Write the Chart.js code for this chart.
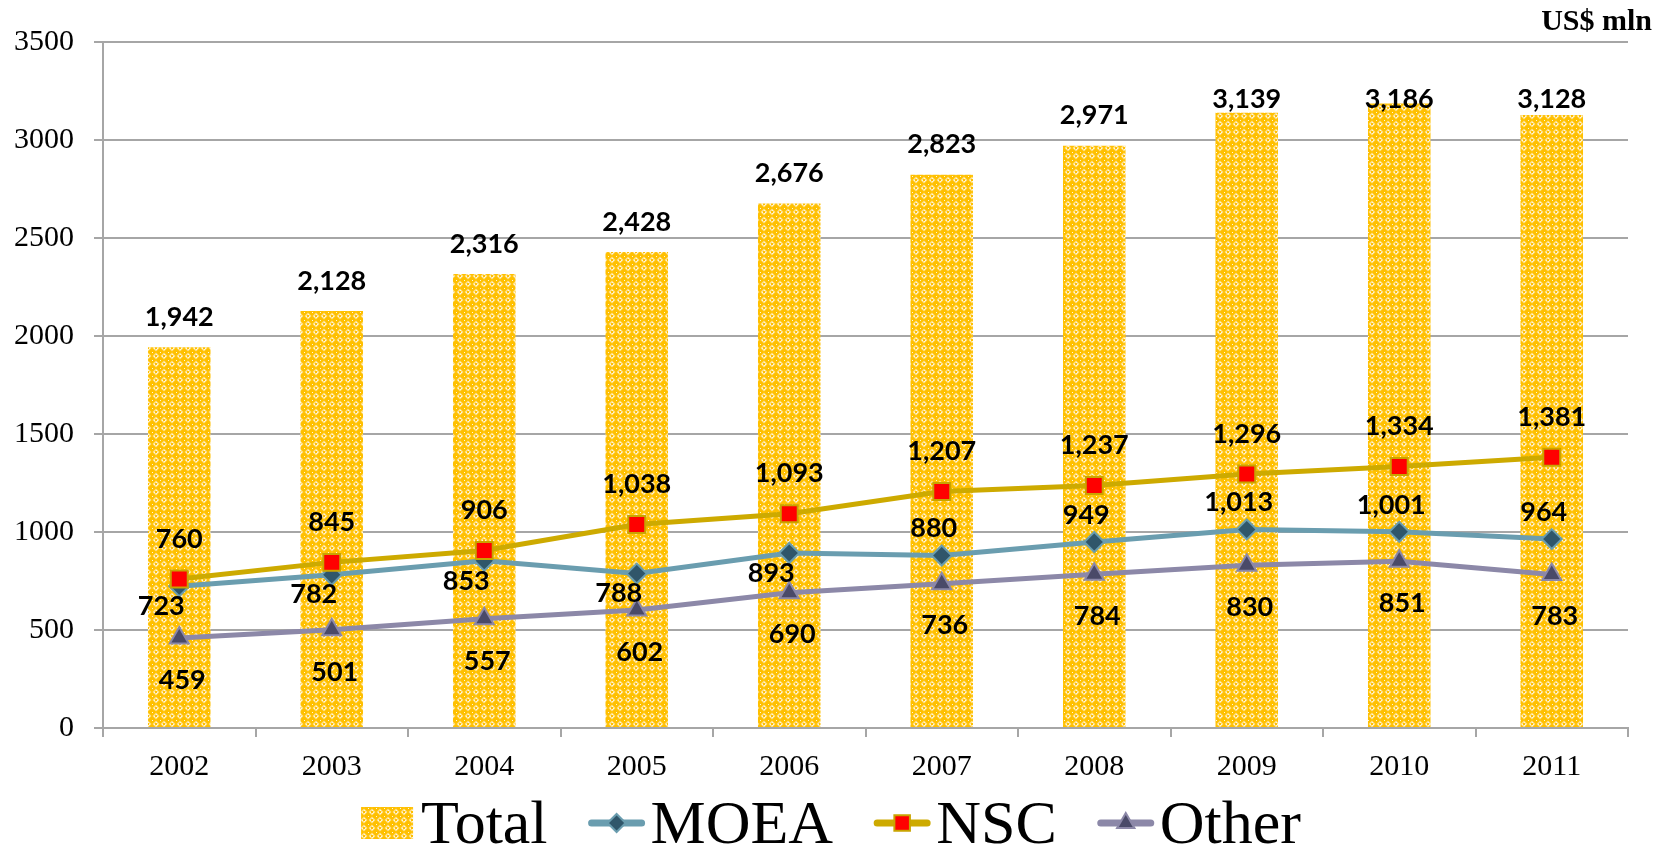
<!DOCTYPE html>
<html lang="en">
<head>
    <meta charset="UTF-8">
    <title>R&D Budget by Agency</title>
    <script src="https://cdn.jsdelivr.net/npm/chart.js@4/dist/chart.umd.min.js"></script>
    <style>
        html, body { margin: 0; padding: 0; background: #fff; }
        #wrap { width: 1671px; height: 847px; }
    </style>
</head>
<body>
    <div id="wrap"><canvas id="chart" width="1671" height="847"></canvas></div>
    <script>
        // Data
        const years = ['2002', '2003', '2004', '2005', '2006', '2007', '2008', '2009', '2010', '2011'];
        const total = [1942, 2128, 2316, 2428, 2676, 2823, 2971, 3139, 3186, 3128];
        const moea  = [723, 782, 853, 788, 893, 880, 949, 1013, 1001, 964];
        const nsc   = [760, 845, 906, 1038, 1093, 1207, 1237, 1296, 1334, 1381];
        const other = [459, 501, 557, 602, 690, 736, 784, 830, 851, 783];
        const yTicks = [0, 500, 1000, 1500, 2000, 2500, 3000, 3500];

        // label placement for MOEA (below / above the point)
        const moeaLabelSide = ['below', 'below', 'below', 'below', 'below', 'above', 'above', 'above', 'above', 'above'];

        const GRID = '#A6A6A6';
        const SERIF = '"Liberation Serif", "Times New Roman", serif';
        const LABEL_FONT = 'bold 27px Lato, "Open Sans", sans-serif';

        // gold bar fill with a light lattice
        function makePattern() {
            const c = document.createElement('canvas');
            c.width = 8; c.height = 8;
            const g = c.getContext('2d');
            g.fillStyle = '#FFC000';
            g.fillRect(0, 0, 8, 8);
            g.fillStyle = '#FFE08A';
            g.beginPath();
            g.moveTo(4, 0.5); g.lineTo(7.5, 4); g.lineTo(4, 7.5); g.lineTo(0.5, 4);
            g.closePath();
            g.fill();
            g.fillStyle = '#FFC000';
            g.fillRect(3, 3, 2, 2);
            g.fillStyle = '#FFF6DC';
            g.fillRect(0, 0, 1, 1);
            g.fillRect(2, 4, 1, 1); g.fillRect(5, 4, 1, 1);
            g.fillRect(4, 2, 1, 1); g.fillRect(4, 5, 1, 1);
            return g.createPattern(c, 'repeat');
        }
        const barFill = makePattern();

        const fmt = v => v.toLocaleString('en-US');

        // value labels
        const valueLabels = {
            id: 'valueLabels',
            afterDatasetsDraw(chart) {
                const ctx = chart.ctx;
                const top = chart.chartArea.top;
                ctx.save();
                ctx.font = LABEL_FONT;
                ctx.fillStyle = '#000';
                ctx.textAlign = 'center';
                ctx.textBaseline = 'middle';
                chart.data.datasets.forEach((ds, di) => {
                    const meta = chart.getDatasetMeta(di);
                    meta.data.forEach((el, i) => {
                        let x = el.x, y = el.y;
                        if (ds.label === 'Total') {
                            y = Math.max(y - 30, top + 57);
                        } else if (ds.label === 'NSC') {
                            y = y - 40;
                        } else if (ds.label === 'MOEA') {
                            if (moeaLabelSide[i] === 'below') { x -= 18; y += 20; }
                            else { x -= 8; y -= 27; }
                        } else {
                            x += 3; y += 42;
                        }
                        ctx.fillText(fmt(ds.data[i]), x, y);
                    });
                });
                ctx.restore();
            }
        };

        // units + legend drawn at the edges of the canvas
        const extras = {
            id: 'extras',
            afterDraw(chart) {
                const ctx = chart.ctx;
                ctx.save();
                ctx.font = 'bold 30px ' + SERIF;
                ctx.fillStyle = '#000';
                ctx.textAlign = 'right';
                ctx.textBaseline = 'middle';
                ctx.fillText('US$ mln', 1652, 22);

                // legend
                ctx.font = '62px ' + SERIF;
                ctx.textAlign = 'left';
                ctx.textBaseline = 'alphabetic';
                const items = chart.data.datasets.slice().sort((a, b) => a.legendIndex - b.legendIndex);
                const markW = 56, gapIn = 6, gapOut = 41;
                let totalW = 0;
                items.forEach((ds, k) => {
                    totalW += markW + gapIn + ctx.measureText(ds.label).width + (k < items.length - 1 ? gapOut : 0);
                });
                let x = 830 - totalW / 2;
                const midY = 823, base = 843;
                items.forEach(ds => {
                    if (ds.type === 'bar') {
                        ctx.fillStyle = barFill;
                        ctx.fillRect(x + 2, 807, 52, 32);
                    } else {
                        ctx.strokeStyle = ds.borderColor;
                        ctx.lineWidth = 7;
                        ctx.lineCap = 'round';
                        ctx.beginPath();
                        ctx.moveTo(x + 3, midY);
                        ctx.lineTo(x + markW - 3, midY);
                        ctx.stroke();
                        ctx.fillStyle = ds.pointBackgroundColor;
                        ctx.strokeStyle = ds.pointBorderColor;
                        ctx.lineWidth = 2;
                        Chart.helpers.drawPoint(ctx, {
                            pointStyle: ds.pointStyle,
                            radius: ds.legendRadius,
                            borderWidth: 2
                        }, x + markW / 2, midY);
                    }
                    x += markW + gapIn;
                    ctx.fillStyle = '#000';
                    ctx.fillText(ds.label, x, base);
                    x += ctx.measureText(ds.label).width + gapOut;
                });
                ctx.restore();
            }
        };

        new Chart(document.getElementById('chart'), {
            data: {
                labels: years,
                datasets: [
                    {
                        type: 'line', label: 'NSC', data: nsc, order: 1, legendIndex: 2,
                        borderColor: '#CDAA00', borderWidth: 5, tension: 0,
                        pointStyle: 'rect', pointRadius: 12, legendRadius: 11,
                        pointBackgroundColor: '#FF0000', pointBorderColor: '#C9A400', pointBorderWidth: 2
                    },
                    {
                        type: 'line', label: 'MOEA', data: moea, order: 2, legendIndex: 1,
                        borderColor: '#6A9DAF', borderWidth: 5, tension: 0,
                        pointStyle: 'rectRot', pointRadius: 10, legendRadius: 9,
                        pointBackgroundColor: '#30566A', pointBorderColor: '#6A9DAF', pointBorderWidth: 2
                    },
                    {
                        type: 'line', label: 'Other', data: other, order: 3, legendIndex: 3,
                        borderColor: '#8C88A8', borderWidth: 5, tension: 0,
                        pointStyle: 'triangle', pointRadius: 11, legendRadius: 10,
                        pointBackgroundColor: '#4A4A68', pointBorderColor: '#8C88A8', pointBorderWidth: 2
                    },
                    {
                        type: 'bar', label: 'Total', data: total, order: 10, legendIndex: 0,
                        backgroundColor: barFill, borderWidth: 0,
                        barPercentage: 0.41, categoryPercentage: 1.0
                    }
                ]
            },
            options: {
                responsive: false,
                animation: false,
                layout: { padding: { top: 42, right: 43, left: 0, bottom: 59 } },
                plugins: {
                    legend: { display: false },
                    tooltip: { enabled: false }
                },
                scales: {
                    x: {
                        offset: true,
                        grid: { offset: true, drawOnChartArea: false, drawTicks: true, tickLength: 9, color: GRID, lineWidth: 2 },
                        border: { display: true, color: GRID, width: 2 },
                        ticks: { color: '#000', font: { family: SERIF, size: 30 }, padding: 12, maxRotation: 0 },
                        afterFit(s) { s.height = 60; }
                    },
                    y: {
                        min: 0, max: 3500,
                        afterBuildTicks(s) { s.ticks = yTicks.map(v => ({ value: v })); },
                        grid: { color: GRID, lineWidth: 2, drawTicks: true, tickLength: 9 },
                        border: { display: true, color: GRID, width: 2 },
                        ticks: { color: '#000', font: { family: SERIF, size: 30 }, padding: 20, callback: v => String(v) },
                        afterFit(s) { s.width = 103; }
                    }
                }
            },
            plugins: [valueLabels, extras]
        });
    </script>
</body>
</html>
